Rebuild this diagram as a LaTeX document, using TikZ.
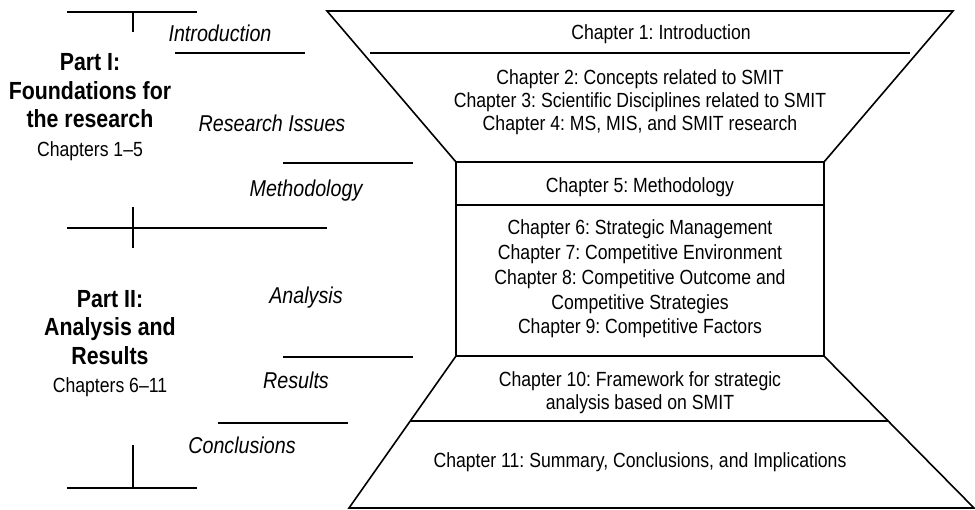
\documentclass[tikz,border=0pt]{standalone}
\usepackage{fontspec}
\setmainfont{Liberation Sans}[FakeStretch=0.86]
\usetikzlibrary{calc}
\frenchspacing
\begin{document}
\begin{tikzpicture}[x=1pt,y=-1pt,
  rule/.style={line width=1.6pt},
  chap/.style={font=\fontsize{20.5}{23.3}\selectfont, align=center, anchor=base, inner sep=0pt},
  chapwide/.style={chap, font=\fontsize{20.5}{24.8}\selectfont},
  stage/.style={font=\fontsize{22.9}{26}\selectfont\itshape, anchor=base, inner sep=0pt},
  part/.style={font=\fontsize{24.8}{28.5}\selectfont\bfseries, align=center, anchor=base, inner sep=0pt}]
\useasboundingbox (0,0) rectangle (975,509);

% funnel outline: upper trapezoid, straight box, lower trapezoid
\coordinate (tl) at (327,11);
\coordinate (tr) at (953,11);
\coordinate (ml) at (456,162);
\coordinate (mr) at (824,162);
\coordinate (ll) at (456,356);
\coordinate (lr) at (824,356);
\coordinate (bl) at (349,508);
\coordinate (br) at (974,508);
\draw[rule] (tl) -- (tr) -- (mr) -- (lr) -- (br) -- (bl) -- (ll) -- (ml) -- cycle;
\draw[rule] (ml) -- (mr);
\draw[rule] (ll) -- (lr);
% inner dividers
\coordinate (d1l) at (370,53);
\coordinate (d1r) at (910,53);
\coordinate (d2l) at (456,205);
\coordinate (d2r) at (824,205);
\draw[rule] (d1l) -- (d1r);
\draw[rule] (d2l) -- (d2r);
\draw[rule] ($(ll)!0.4276!(bl)$) -- ($(lr)!0.4276!(br)$);

% chapter texts (anchored at the baseline of their last line)
\node[chap] (c1) at (661,39.3) {Chapter 1: Introduction};
\node[chap] (c2) at (640,130.9) {Chapter 2: Concepts related to SMIT\\Chapter 3: Scientific Disciplines related to SMIT\\Chapter 4: MS, MIS, and SMIT research};
\node[chap] (c5) at (640,192.3) {Chapter 5: Methodology};
\node[chapwide] (c6) at (640,333.8) {Chapter 6: Strategic Management\\Chapter 7: Competitive Environment\\Chapter 8: Competitive Outcome and\\Competitive Strategies\\Chapter 9: Competitive Factors};
\node[chap] (c10) at (640,409.5) {Chapter 10: Framework for strategic\\analysis based on SMIT};
\node[chap] (c11) at (640,467.3) {Chapter 11: Summary, Conclusions, and Implications};

% stage labels
\node[stage] (sIntro) at (220,41.2) {Introduction};
\node[stage] (sIssues) at (272,131.2) {Research Issues};
\node[stage] (sMeth) at (306,196.2) {Methodology};
\node[stage] (sAna) at (306,303.2) {Analysis};
\node[stage] (sRes) at (296,388.2) {Results};
\node[stage] (sConc) at (242,453.2) {Conclusions};

% separators between the stage labels
\coordinate (a1) at (175,53);  \coordinate (a2) at (305,53);
\coordinate (b1) at (283,163); \coordinate (b2) at (413,163);
\coordinate (e1) at (283,357); \coordinate (e2) at (413,357);
\coordinate (f1) at (218,423); \coordinate (f2) at (348,423);
\draw[rule] (a1) -- (a2);
\draw[rule] (b1) -- (b2);
\draw[rule] (e1) -- (e2);
\draw[rule] (f1) -- (f2);

% part brackets
\coordinate (p1l) at (67,12);  \coordinate (p1r) at (197,12);
\coordinate (p1m) at (133,12); \coordinate (p1t) at (133,32);
\draw[rule] (p1l) -- (p1r);
\draw[rule] (p1m) -- (p1t);
\coordinate (p2l) at (67,228);  \coordinate (p2r) at (327,228);
\coordinate (p2u) at (133,207); \coordinate (p2d) at (133,248);
\draw[rule] (p2l) -- (p2r);
\draw[rule] (p2u) -- (p2d);
\coordinate (p3l) at (67,488);  \coordinate (p3r) at (197,488);
\coordinate (p3m) at (133,488); \coordinate (p3t) at (133,445);
\draw[rule] (p3l) -- (p3r);
\draw[rule] (p3m) -- (p3t);

% part titles
\node[part] (part1) at (90,156) {Part I:\\Foundations for\\the research\\{\mdseries\fontsize{20.5}{24}\selectfont Chapters 1--5}};
\node[part] (part2) at (110,392.5) {Part II:\\Analysis and\\Results\\{\mdseries\fontsize{20.5}{24}\selectfont Chapters 6--11}};
\end{tikzpicture}
\end{document}
